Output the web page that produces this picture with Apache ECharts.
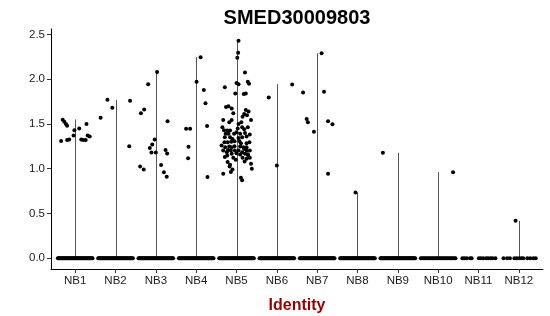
<!DOCTYPE html>
<html><head><meta charset="utf-8">
<script src="https://cdn.jsdelivr.net/npm/echarts@6/dist/echarts.min.js"></script>
<style>html,body{margin:0;padding:0;background:#fff}#c{width:550px;height:316px}</style>
</head><body><div id="c"></div>
<script>
const categories = ['NB1','NB2','NB3','NB4','NB5','NB6','NB7','NB8','NB9','NB10','NB11','NB12'];
const yTicks = [0, 0.5, 1.0, 1.5, 2.0, 2.5];
// violin extent (max expression) per identity; null = no violin visible
const violinMax = [1.55, 1.77, 2.08, 2.245, 2.43, 1.944, 2.29, 0.733, 1.178, 0.962, null, 0.418];
// number of cells at zero per identity (drawn as jittered row)
const zeroCounts = [45, 45, 45, 45, 45, 45, 45, 45, 45, 28, 0, 0];
// explicit zero-cell jitter for sparse identities [offset]
const zeroNB11 = [-0.40,-0.35,-0.29,-0.21,-0.17,0.01,0.06,0.12,0.19,0.24,0.30,0.35,0.42];
const zeroNB12 = [-0.38,-0.29,-0.22,-0.11,-0.05,0.01,0.07,0.11,0.21,0.28,0.36,0.42];
// non-zero cells: [jitter offset, expression]
const ptsNB1 = [[-0.31,1.548],[-0.27,1.525],[-0.23,1.50],[-0.20,1.48],[-0.02,1.43],[0.10,1.45],[0.28,1.50],[-0.04,1.37],[-0.35,1.31],[-0.20,1.32],[-0.15,1.325],[0.15,1.325],[0.20,1.32],[0.26,1.32],[0.31,1.37],[0.36,1.36]];
const ptsNB2 = [[-0.37,1.57],[-0.20,1.77],[-0.08,1.68],[0.34,1.25],[0.36,1.76]];
const ptsNB3 = [[-0.19,1.944],[-0.37,1.62],[-0.29,1.66],[0.03,2.08],[0.29,1.53],[-0.03,1.325],[-0.09,1.27],[-0.15,1.23],[-0.11,1.18],[0.0,1.18],[0.24,1.21],[0.28,1.17],[-0.39,1.025],[-0.30,0.99],[0.13,1.04],[0.20,0.96],[0.27,0.91]];
const ptsNB4 = [[-0.25,1.447],[-0.15,1.447],[-0.19,1.244],[-0.20,1.118],[0.01,1.97],[0.11,2.244],[0.19,1.878],[0.23,1.73],[0.27,1.478],[0.28,0.907]];
const ptsNB5 = [[0.05,2.43],[0.04,2.296],[0.02,2.24],[0.21,2.073],[0.28,1.97],[0.31,1.95],[0.0,1.956],[0.05,1.944],[-0.29,1.91],[-0.03,1.84],[0.18,1.833],[0.23,1.84],
 [-0.20,1.696],[-0.12,1.673],[0.23,1.656],[0.19,1.611],[0.15,1.581],[0.26,1.596],[-0.33,1.544],[-0.12,1.544],[0.36,1.544],[0.05,1.50],[-0.35,1.462],[0.14,1.462],[0.28,1.462],
 [-0.23,1.426],[-0.16,1.426],[-0.27,1.389],[-0.20,1.389],[-0.06,1.389],[0.0,1.407],[0.09,1.389],[0.21,1.40],[0.33,1.381],[-0.29,1.351],[-0.16,1.351],[-0.10,1.333],[0.05,1.344],[0.14,1.351],[0.25,1.359],
 [-0.30,1.296],[-0.22,1.296],[-0.05,1.307],[0.11,1.284],[0.25,1.284],[0.32,1.296],[-0.37,1.259],[-0.28,1.24],[-0.18,1.248],[-0.12,1.24],[0.09,1.248],[0.17,1.24],[0.25,1.24],
 [-0.33,1.203],[-0.24,1.185],[-0.14,1.203],[-0.04,1.203],[0.05,1.203],[0.14,1.185],[0.25,1.203],[0.33,1.203],[-0.23,1.148],[-0.12,1.167],[0.0,1.173],[0.09,1.159],[0.21,1.167],[0.29,1.148],
 [-0.08,1.122],[-0.02,1.10],[0.15,1.122],[0.25,1.111],[0.33,1.122],[-0.22,1.074],[-0.16,1.044],[0.36,1.056],[0.38,1.0],[-0.33,0.944],[-0.14,0.962],[0.11,0.90],[0.14,0.87],
 [-0.26,1.69],[-0.08,1.62],[0.30,1.64],[-0.18,1.52],[0.12,1.52],[-0.31,1.43],[0.03,1.45],[0.19,1.44],[-0.13,1.30],[0.07,1.31],[-0.21,1.21],[0.19,1.22],[-0.05,1.25],[0.28,1.16],[-0.29,1.13],[-0.17,1.025],[-0.10,0.99],[0.20,1.08]];
const ptsNB6 = [[-0.20,1.796],[0.38,1.94],[0.0,1.037]];
const ptsNB7 = [[0.11,2.29],[-0.35,1.85],[0.17,1.86],[-0.26,1.556],[-0.23,1.518],[-0.08,1.414],[0.27,1.53],[0.38,1.496],[0.27,0.944]];
const ptsNB8 = [[-0.05,0.733]];
const ptsNB9 = [[-0.37,1.178]];
const ptsNB10 = [[0.37,0.959]];
const ptsNB11 = [];
const ptsNB12 = [[-0.08,0.42]];

const nonZero = [ptsNB1,ptsNB2,ptsNB3,ptsNB4,ptsNB5,ptsNB6,ptsNB7,ptsNB8,ptsNB9,ptsNB10,ptsNB11,ptsNB12];
const points = [];
categories.forEach((c, i) => {
  const n = zeroCounts[i];
  for (let k = 0; k < n; k++) points.push([i + 1 - 0.43 + 0.86 * k / (n - 1), 0]);
  nonZero[i].forEach(p => points.push([i + 1 + p[0], p[1]]));
});
zeroNB11.forEach(o => points.push([11 + o, 0]));
zeroNB12.forEach(o => points.push([12 + o, 0]));

const violinData = [];
violinMax.forEach((m, i) => { if (m !== null) violinData.push([i + 1, m]); });

const chart = echarts.init(document.getElementById('c'), null, {renderer: 'canvas'});
const font = 'Liberation Sans, Arial, sans-serif';
chart.setOption({
  animation: false,
  title: {text: 'SMED30009803', left: 292, textAlign: 'center', top: 3,
    textStyle: {fontFamily: font, fontSize: 20, fontWeight: 'bold', color: '#000'}},
  grid: {left: 51, right: 7, top: 29, bottom: 47, containLabel: false, outerBoundsMode: 'none'},
  xAxis: {type: 'value', min: 0.4, max: 12.6,
    name: 'Identity', nameLocation: 'middle', nameGap: 29,
    nameTextStyle: {fontFamily: font, fontSize: 16, fontWeight: 'bold', color: '#990000'},
    axisLine: {show: true, onZero: false, lineStyle: {color: '#000', width: 1}},
    axisTick: {show: true, length: 4, lineStyle: {color: '#333'}, customValues: [1,2,3,4,5,6,7,8,9,10,11,12]},
    axisLabel: {customValues: [1,2,3,4,5,6,7,8,9,10,11,12], margin: 6, color: '#1a1a1a', fontFamily: font, fontSize: 11.5,
      formatter: v => categories[Math.round(v) - 1]},
    splitLine: {show: false}},
  yAxis: {type: 'value', min: -0.12, max: 2.56,
    axisLine: {show: true, onZero: false, lineStyle: {color: '#000', width: 1}},
    axisTick: {show: true, length: 4, lineStyle: {color: '#333'}, customValues: yTicks},
    axisLabel: {customValues: yTicks, margin: 6, color: '#1a1a1a', fontFamily: font, fontSize: 11.5,
      formatter: v => v.toFixed(1)},
    splitLine: {show: false}},
  series: [
    {type: 'custom', data: violinData, z: 1,
      renderItem: (params, api) => {
        const a = api.coord([api.value(0), 0]);
        const b = api.coord([api.value(0), api.value(1)]);
        return {type: 'line', shape: {x1: Math.round(a[0]) + 0.5, y1: a[1], x2: Math.round(b[0]) + 0.5, y2: b[1]},
          style: {stroke: '#555', lineWidth: 1}};
      }},
    {type: 'scatter', data: points, symbolSize: 4, z: 2,
      itemStyle: {color: '#000', opacity: 1}}
  ]
});
</script></body></html>
